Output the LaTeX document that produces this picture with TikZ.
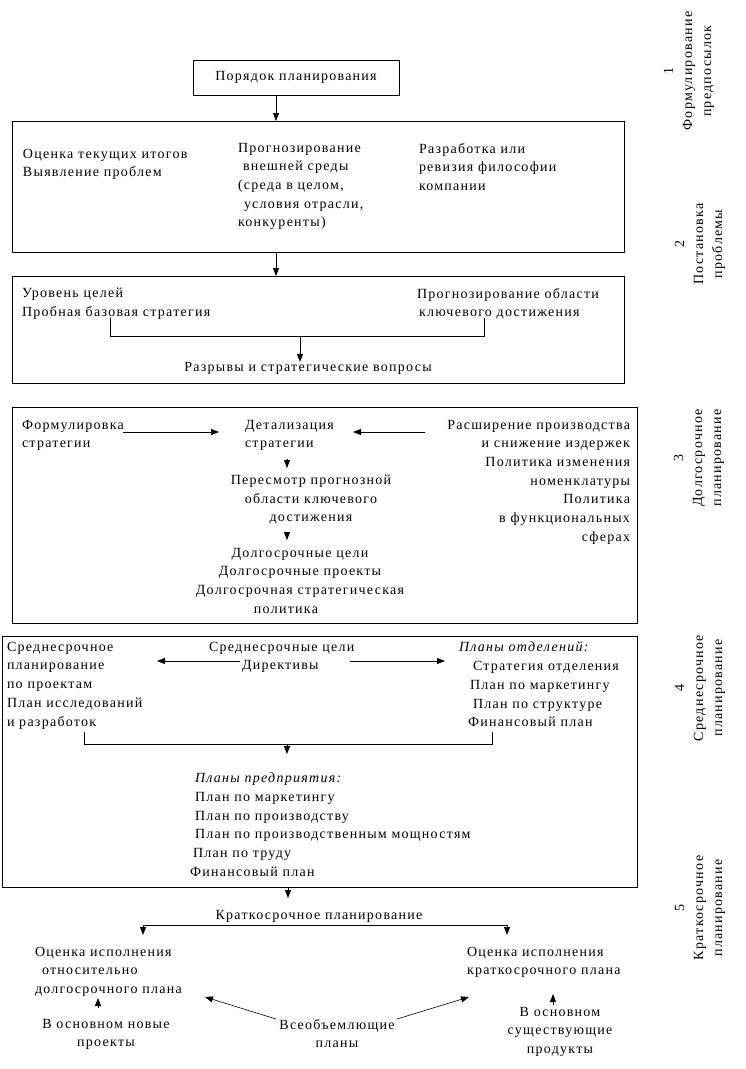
\documentclass[tikz,border=0pt]{standalone}
\usepackage{fontspec}
\setmainfont{Liberation Serif}[LetterSpace=9]
\usetikzlibrary{arrows.meta}
\begin{document}
\begin{tikzpicture}[x=1pt,y=-1pt,
  every node/.style={inner sep=0pt, outer sep=0pt},
  txt/.style={font=\fontsize{14}{18.7}\selectfont},
  frame/.style={draw, line width=0.9pt, anchor=north west},
  arr/.style={line width=0.8pt, -{Triangle[length=8pt,width=6pt]}},
  thinarr/.style={line width=0.6pt, -{Triangle[length=8pt,width=6pt]}},
  ln/.style={line width=0.8pt},
  side/.style={font=\fontsize{14}{19}\selectfont, rotate=90, align=center}]
\useasboundingbox (0,0) rectangle (745,1069);

% ---------- stage 1 ----------
\node[frame, minimum width=206pt, minimum height=35pt] (b1) at (193,60) {};
\node[txt] (t1) at (296,77) {Порядок планирования};

% ---------- stage 2 ----------
\node[frame, minimum width=612pt, minimum height=131pt] (b2) at (12,121) {};
\coordinate (a1) at (276,95);
\draw[arr] (a1) -- (a1 |- b2.north);
\node[txt, anchor=north west, align=left] (t2a) at (23,149) {Оценка текущих итогов\\Выявление проблем};
\node[txt, anchor=north west, align=left] (t2b) at (238,143) {Прогнозирование\\\hspace*{5pt}внешней среды\\(среда в целом,\\\hspace*{6pt}условия отрасли,\\конкуренты)};
\node[txt, anchor=north west, align=left] (t2c) at (419,143) {Разработка или\\ревизия философии\\компании};

% ---------- stage 3 ----------
\node[frame, minimum width=612pt, minimum height=107pt] (b3) at (12,276) {};
\coordinate (a2) at (276,252);
\draw[arr] (a2) -- (a2 |- b3.north);
\node[txt, anchor=north west, align=left] (t3a) at (22,288) {Уровень целей\\Пробная базовая стратегия};
\node[txt, anchor=north west, align=left] (t3b) at (417,288) {Прогнозирование области\\\hspace*{2pt}ключевого достижения};
\node[txt] (t3c) at (308,368) {Разрывы и стратегические вопросы};
\coordinate (k3l) at (110,318);
\coordinate (k3r) at (484,318);
\coordinate (k3m) at (300,336);
\draw[ln] (k3l) |- (k3r |- k3m) -- (k3r);
\draw[arr] (k3m) -- (k3m |- t3c.north);

% ---------- stage 4 ----------
\node[frame, minimum width=625pt, minimum height=216pt] (b4) at (12,407) {};
\node[txt, anchor=north west, align=left] (t4a) at (22,420) {Формулировка\\стратегии};
\node[txt, anchor=north west, align=left] (t4b) at (245,420) {Детализация\\стратегии};
\node[txt, anchor=north east, align=right] (t4c) at (630,420) {Расширение производства\\и снижение издержек\\Политика изменения\\номенклатуры\\Политика\\в функциональных\\сферах};
\node[txt, anchor=north, align=center] (t4d) at (311,475) {Пересмотр прогнозной\\области ключевого\\достижения};
\node[txt, anchor=north, align=center] (t4e) at (300,548) {Долгосрочные цели\\Долгосрочные проекты\\Долгосрочная стратегическая\\политика\hspace*{28pt}};
\coordinate (p1) at (123,432);
\coordinate (p2) at (219,432);
\coordinate (p3) at (425,432);
\coordinate (p4) at (353,432);
\draw[arr] (p1) -- (p2);
\draw[arr] (p3) -- (p4);
\coordinate (d1) at (287,459);
\coordinate (d2) at (287,532);
\draw[arr] (d1) -- ++(0,9);
\draw[arr] (d2) -- ++(0,8);

% ---------- stage 5 (medium) ----------
\node[frame, minimum width=635pt, minimum height=251pt] (b5) at (2,636) {};
\node[txt, anchor=north west, align=left] (t5a) at (7,642) {Среднесрочное\\планирование\\по проектам\\План исследований\\и разработок};
\node[txt, anchor=north west, align=left] (t5b) at (209,642) {Среднесрочные цели\\\hspace*{33pt}Директивы};
\node[txt, anchor=north west, align=left] (t5c) at (459,642) {{\itshape Планы отделений:}\\\hspace*{14pt}Стратегия отделения\\\hspace*{11pt}План по маркетингу\\\hspace*{14pt}План по структуре\\\hspace*{9pt}Финансовый план};
\coordinate (m1) at (240,661);
\coordinate (m2) at (157,661);
\coordinate (m3) at (350,661);
\coordinate (m4) at (445,661);
\draw[arr] (m1) -- (m2);
\draw[arr] (m3) -- (m4);
\coordinate (k5l) at (84,732);
\coordinate (k5r) at (492,732);
\coordinate (k5m) at (287,744);
\draw[ln] (k5l) |- (k5r |- k5m) -- (k5r);
\draw[arr] (k5m) -- ++(0,10);
\node[txt, anchor=north west, align=left] (t5d) at (195,773) {{\itshape Планы предприятия:}\\План по маркетингу\\План по производству\\План по производственным мощностям\\\hspace*{-2pt}План по труду\\\hspace*{-5pt}Финансовый план};

% ---------- short-term ----------
\coordinate (s0) at (288,887);
\draw[arr] (s0) -- ++(0,11);
\node[txt] (t6) at (319,916) {Краткосрочное планирование};
\coordinate (jl) at (143,925);
\coordinate (jr) at (507,925);
\draw[ln] (jl) -- (jr);
\draw[arr] (jl) -- ++(0,10);
\draw[arr] (jr) -- ++(0,10);
\node[txt, anchor=north west, align=left] (t7a) at (35,947) {Оценка исполнения\\\hspace*{7pt}относительно\\долгосрочного плана};
\node[txt, anchor=north west, align=left] (t7b) at (467,947) {Оценка исполнения\\краткосрочного плана};
\node[txt, anchor=north, align=center] (t8a) at (106,1019) {В основном новые\\проекты};
\node[txt, anchor=north, align=center] (t8b) at (337,1019) {Всеобъемлющие\\планы};
\node[txt, anchor=north, align=center] (t8c) at (560,1007) {В основном\\существующие\\продукты};
\coordinate (u1) at (98,1008);
\coordinate (u2) at (553,1005);
\draw[arr] (u1) -- ++(0,-10);
\draw[arr] (u2) -- ++(0,-11);
\coordinate (g1) at (276,1019);
\coordinate (g2) at (205,997);
\coordinate (g3) at (397,1019);
\coordinate (g4) at (469,997);
\draw[thinarr] (g1) -- (g2);
\draw[thinarr] (g3) -- (g4);

% ---------- side labels ----------
\node[side] (s1) at (689,71) {1\\Формулирование\\предпосылок};
\node[side] (s2) at (700,244) {2\\Постановка\\проблемы};
\node[side] (s3) at (699,458) {3\\Долгосрочное\\планирование};
\node[side] (s4) at (700,688) {4\\Среднесрочное\\планирование};
\node[side] (s5) at (700,908) {5\\Краткосрочное\\планирование};
\end{tikzpicture}
\end{document}
